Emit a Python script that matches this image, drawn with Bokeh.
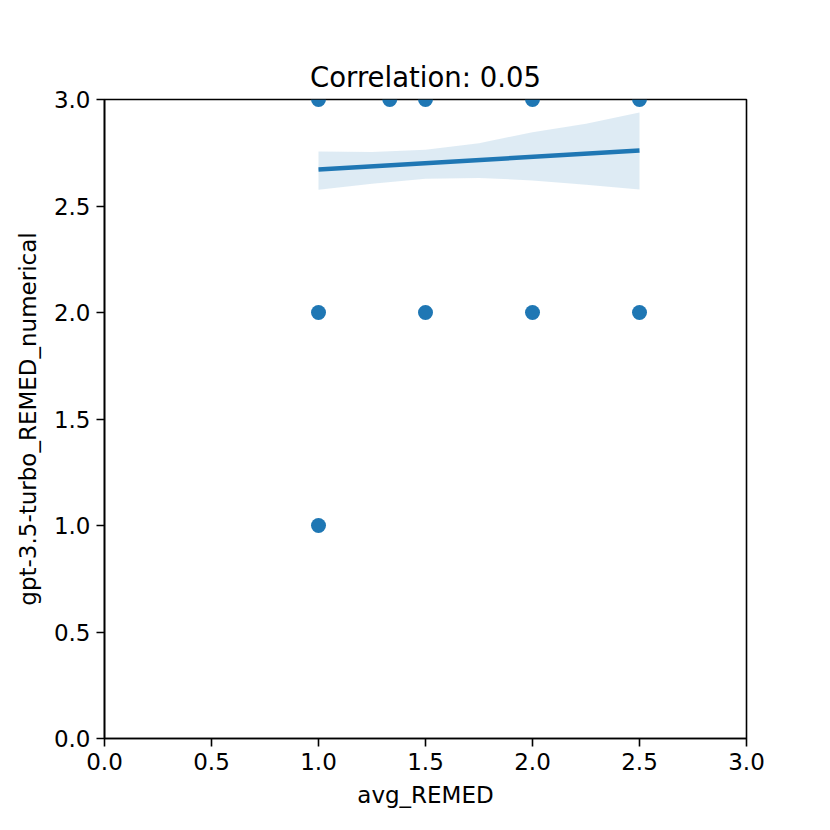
import numpy as np
from bokeh.plotting import figure
from bokeh.models import FixedTicker, PrintfTickFormatter
from bokeh.embed import file_html
from bokeh.resources import INLINE

# scatter data (avg_REMED vs gpt-3.5-turbo_REMED_numerical)
pts_x = [1.0, 1.333, 1.5, 2.0, 2.5, 1.0, 1.5, 2.0, 2.5, 1.0]
pts_y = [3.0, 3.0, 3.0, 3.0, 3.0, 2.0, 2.0, 2.0, 2.0, 1.0]

# regression line endpoints
reg_x = [1.0, 2.5]
reg_y = [2.671, 2.761]

# confidence band
band_x = [1.0, 1.25, 1.5, 1.75, 2.0, 2.25, 2.5]
band_hi = [2.756, 2.753, 2.764, 2.795, 2.846, 2.886, 2.939]
band_lo = [2.576, 2.604, 2.628, 2.632, 2.620, 2.600, 2.577]

ticks = [0.0, 0.5, 1.0, 1.5, 2.0, 2.5, 3.0]
title_text = "Correlation: 0.05"
xlabel = "avg_REMED"
ylabel = "gpt-3.5-turbo_REMED_numerical"

BLUE = "#1f77b4"
FONT = "DejaVu Sans"
YMAX = 3.0

p = figure(frame_width=642, frame_height=639, x_range=(0, 3), y_range=(0, YMAX),
           output_backend="svg", toolbar_location=None, title=title_text,
           min_border_left=104, min_border_right=76, min_border_top=99, min_border_bottom=84)
p.background_fill_color = "white"
p.border_fill_color = "white"
p.grid.visible = False
p.outline_line_color = "black"
p.outline_line_width = 1.6
p.outline_line_alpha = 1.0

p.title.align = "center"
p.title.text_font = FONT
p.title.text_font_size = "27.5px"
p.title.text_font_style = "normal"
p.title.text_color = "black"
p.title.standoff = 13

for ax in (p.xaxis[0], p.yaxis[0]):
    ax.ticker = FixedTicker(ticks=ticks)
    ax.formatter = PrintfTickFormatter(format="%.1f")
    ax.major_label_text_font = FONT
    ax.major_label_text_font_size = "23px"
    ax.major_label_text_color = "black"
    ax.axis_label_text_font = FONT
    ax.axis_label_text_font_size = "23px"
    ax.axis_label_text_font_style = "normal"
    ax.axis_label_text_color = "black"
    ax.minor_tick_line_color = None
    ax.major_tick_out = 8
    ax.major_tick_in = 0
    ax.major_tick_line_width = 1.6
    ax.major_tick_line_color = "black"
    ax.axis_line_width = 1.6
    ax.axis_line_color = "black"
    ax.major_label_standoff = 6

p.xaxis.axis_label = xlabel
p.yaxis.axis_label = ylabel
p.xaxis.axis_label_standoff = 9
p.yaxis.axis_label_standoff = 10

# points inside the frame: full dots; points on the top edge: clipped to lower half
in_x = [x for x, y in zip(pts_x, pts_y) if y < YMAX]
in_y = [y for y in pts_y if y < YMAX]
edge_x = [x for x, y in zip(pts_x, pts_y) if y >= YMAX]
edge_y = [y for y in pts_y if y >= YMAX]

p.scatter(in_x, in_y, size=15, color=BLUE, line_color=None)
p.wedge(x=edge_x, y=edge_y, radius=7.5, radius_units="screen",
        start_angle=np.pi, end_angle=2 * np.pi, fill_color=BLUE, line_color=None)
p.varea(x=band_x, y1=band_lo, y2=band_hi, fill_color=BLUE, fill_alpha=0.15)
p.line(reg_x, reg_y, line_color=BLUE, line_width=4.5)

open("out.html", "w").write(file_html(p, INLINE))
